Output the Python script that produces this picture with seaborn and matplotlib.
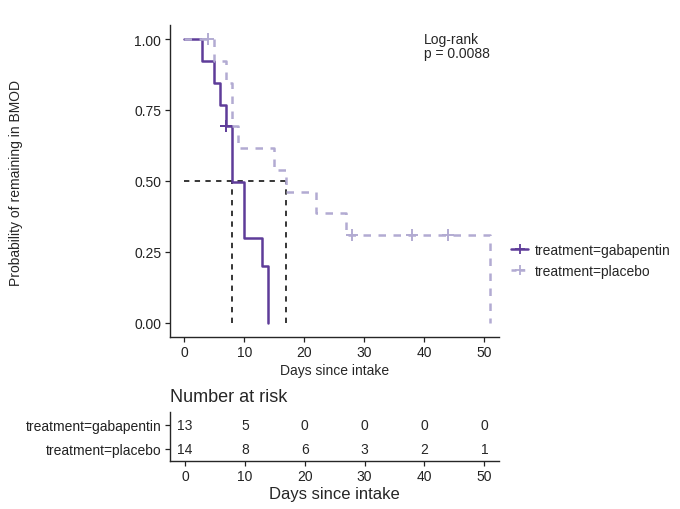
import numpy as np
import pandas as pd
import matplotlib
matplotlib.use('Agg')
import matplotlib.pyplot as plt
from matplotlib.lines import Line2D
import seaborn as sns

# Kaplan-Meier step curves
gaba_time = [0, 3, 5, 6, 7, 8, 10, 13, 14]
gaba_surv = [1.0, 0.923, 0.846, 0.769, 0.692, 0.495, 0.297, 0.198, 0.0]
placebo_time = [0, 5, 7, 8, 9, 15, 17, 22, 27, 51]
placebo_surv = [1.0, 0.923, 0.846, 0.692, 0.615, 0.538, 0.462, 0.385, 0.308, 0.0]

# censoring marks
gaba_cens_time = [7]
gaba_cens_surv = [0.692]
placebo_cens_time = [4, 28, 38, 44]
placebo_cens_surv = [1.0, 0.308, 0.308, 0.308]

medians = [8, 17]

groups = ['gabapentin', 'placebo']
risk_times = [0, 10, 20, 30, 40, 50]
risk_gaba = [13, 5, 0, 0, 0, 0]
risk_placebo = [14, 8, 6, 3, 2, 1]

colors = {'gabapentin': '#5E3C99', 'placebo': '#B2ABD2'}

curves = pd.concat([
    pd.DataFrame({'time': gaba_time, 'surv': gaba_surv, 'treatment': 'gabapentin'}),
    pd.DataFrame({'time': placebo_time, 'surv': placebo_surv, 'treatment': 'placebo'}),
], ignore_index=True)

sns.set_theme(style='ticks')
plt.rcParams['font.family'] = ['Liberation Sans', 'DejaVu Sans']
plt.rcParams['axes.linewidth'] = 1.0

fig = plt.figure(figsize=(6.8, 5.1), dpi=100)
ax = fig.add_axes([169.5 / 680, 1 - 337.7 / 510, (499.3 - 169.5) / 680, (337.7 - 25.85) / 510])
tab = fig.add_axes([170 / 680, 1 - 462 / 510, (499.3 - 170) / 680, (462 - 412.7) / 510])

# median lines
ax.plot([0, max(medians)], [0.5, 0.5], color='black', lw=1.1, dashes=(3.5, 3.5))
for m in medians:
    ax.plot([m, m], [0, 0.5], color='black', lw=1.1, dashes=(3.5, 3.5))

sns.lineplot(data=curves, x='time', y='surv', hue='treatment', style='treatment',
             palette=colors, dashes={'gabapentin': '', 'placebo': (3, 3)},
             drawstyle='steps-post', estimator=None, sort=False,
             linewidth=1.8, legend=False, ax=ax)

ax.plot(gaba_cens_time, gaba_cens_surv, '+', color=colors['gabapentin'], ms=8, mew=1.4)
ax.plot(placebo_cens_time, placebo_cens_surv, '+', color=colors['placebo'], ms=8, mew=1.4)

ax.set_xlim(-2.5, 52.5)
ax.set_ylim(-0.05, 1.05)
ax.set_xticks([0, 10, 20, 30, 40, 50])
ax.set_yticks([0, 0.25, 0.5, 0.75, 1.0])
ax.set_yticklabels(['0.00', '0.25', '0.50', '0.75', '1.00'])
ax.tick_params(length=3.5, width=0.9, pad=2.5, labelsize=10, colors='#222222')
sns.despine(ax=ax)
ax.set_xlabel('Days since intake', fontsize=10, labelpad=3)
ax.set_ylabel('')
fig.text(16 / 680, 1 - 183 / 510, 'Probability of remaining in BMOD', rotation=90,
         ha='center', va='center', fontsize=10)

ax.text(40, 0.975, 'Log-rank\np = 0.0088', ha='left', va='center', fontsize=10,
        linespacing=0.95)

handles = [
    Line2D([0], [0], color=colors['gabapentin'], lw=1.8, marker='+', ms=7, mew=1.3),
    Line2D([0], [0], color=colors['placebo'], lw=1.8, dashes=(2, 1.5), marker='+', ms=7, mew=1.3),
]
ax.legend(handles, ['treatment=' + g for g in groups], loc='center left',
          bbox_to_anchor=(1.02, 0.245), frameon=False, fontsize=10,
          handlelength=1.2, handletextpad=0.5, labelspacing=0.5, borderaxespad=0)

# risk table
for row, counts in zip([2, 1], [risk_gaba, risk_placebo]):
    for t, n in zip(risk_times, counts):
        tab.text(t, row, str(n), ha='center', va='center', fontsize=10)

tab.set_xlim(-2.5, 52.5)
tab.set_ylim(0.5, 2.55)
tab.set_xticks(risk_times)
tab.set_yticks([2, 1])
tab.set_yticklabels(['treatment=' + g for g in groups])
tab.tick_params(length=3.5, width=0.9, pad=2.5, labelsize=10, colors='#222222')
sns.despine(ax=tab)
tab.set_xlabel('Days since intake', fontsize=12, labelpad=2)
tab.set_title('Number at risk', loc='left', fontsize=13, pad=8)

fig.savefig('out.png', dpi=100)
